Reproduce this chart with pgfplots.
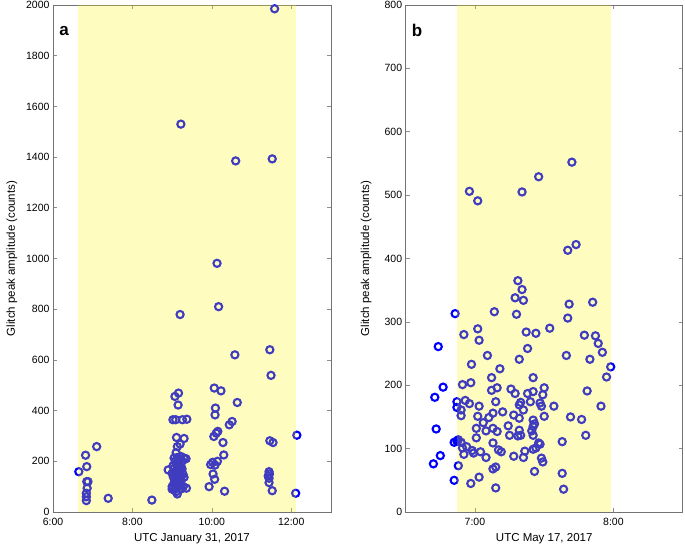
\documentclass[border=0pt]{standalone}
\usepackage{fontspec}
\setmainfont{Liberation Sans}
\usepackage{pgfplots}
\pgfplotsset{compat=1.18}
\pgfplotstableread{
h v
6.65 159
6.82 224
6.85 179
6.85 120
6.88 120
6.86 94
6.84 74
6.84 60
6.84 45
7.10 258
7.39 54
8.49 47
8.90 166
9.07 456
9.16 469
9.15 422
9.02 364
9.09 364
9.26 364
9.37 366
9.11 294
9.30 290
9.13 258
9.20 268
9.10 234
9.05 213
9.13 215
9.22 219
9.30 213
9.35 210
9.08 200
9.17 203
9.25 200
9.10 190
9.18 185
9.05 172
9.13 175
9.22 180
9.02 182
9.15 160
9.25 170
9.00 153
9.09 155
9.20 166
9.03 138
9.13 133
9.12 145
9.07 146
9.20 141
9.22 135
9.27 150
9.30 137
9.08 125
9.18 125
9.05 115
9.13 113
9.18 110
9.22 120
9.00 100
9.09 100
9.16 105
9.28 100
9.24 92
9.36 94
9.05 87
9.10 80
9.00 90
9.13 71
9.22 1530
9.20 779
10.06 489
10.23 478
10.09 410
10.08 383
10.05 298
10.11 311
10.15 318
10.28 274
10.30 225
9.97 187
10.02 196
10.08 185
10.14 200
10.03 150
10.07 129
9.93 100
10.32 82
10.13 981
10.17 810
10.60 1385
10.58 620
10.64 432
10.44 344
10.51 357
11.58 1985
11.52 1393
11.46 640
11.49 539
11.46 281
11.54 274
11.44 159
11.45 150
11.42 142
11.44 133
11.44 116
11.52 84
12.14 303
12.11 74
}\dataA
\pgfplotstableread{
h v
6.857 313
6.96 506
7.02 491
7.34 505
7.46 529
7.70 552
7.67 413
7.73 422
7.31 365
7.34 351
7.29 338
7.35 334
7.14 316
7.30 312
7.68 328
7.67 306
7.85 331
6.92 280
7.02 289
7.03 271
7.37 284
7.44 282
7.54 290
7.79 279
7.87 278
6.735 261
6.77 197
6.71 181
6.72 131
6.75 89
6.70 76
6.85 110
6.85 50
7.98 229
7.09 247
6.975 233
6.91 201
6.97 204
6.87 174
6.87 165
6.90 161
6.90 152
6.93 176
6.96 171
7.03 167
7.02 151
7.01 132
7.01 117
6.88 114
6.90 110
6.87 112
6.91 101
6.94 103
6.92 91
6.98 97
6.99 93
7.04 95
7.08 86
6.88 73
6.97 45
7.03 55
7.15 38
7.13 68
7.15 71
7.08 128
7.06 141
7.10 149
7.13 156
7.20 158
7.15 174
7.12 192
7.16 196
7.12 212
7.18 226
7.13 132
7.16 127
7.13 109
7.17 98
7.19 95
7.24 136
7.25 121
7.26 194
7.29 187
7.28 153
7.28 88
7.32 241
7.32 169
7.33 173
7.35 161
7.32 148
7.31 120
7.33 121
7.32 129
7.35 86
7.36 96
7.38 258
7.38 187
7.40 174
7.42 212
7.42 190
7.41 128
7.42 121
7.42 145
7.43 139
7.42 135
7.42 99
7.44 101
7.43 64
7.46 109
7.47 107
7.47 172
7.48 167
7.49 185
7.50 196
7.50 151
7.48 85
7.49 79
7.57 167
7.63 111
7.63 61
7.64 36
7.66 247
7.69 150
7.77 146
7.80 121
7.81 191
7.83 241
7.89 266
7.92 252
7.95 213
7.91 167
}\dataB
\pgfplotsset{
  myax/.style={
    scale only axis,
    height=507pt,
    clip marker paths=true,
    axis line style={draw=black!55, line width=0.7pt},
    tick style={draw=black!45, line width=0.7pt},
    major tick length=4pt,
    tick align=inside,
    ticklabel style={font=\fontsize{10.5}{12}\selectfont},
    label style={font=\fontsize{11.5}{13}\selectfont},
    /pgf/number format/assume math mode=true,
    /pgf/number format/1000 sep={},
    scaled y ticks=false,
    xticklabel style={yshift=-3pt},
    xlabel style={at={(axis description cs:0.5,-0.052)}, anchor=center},
    ymin=0,
  },
  mk/.style={only marks, mark=o, mark size=3.6pt, mark options={draw=blue, line width=2.1pt}},
  band/.style={draw=none, fill=yellow, fill opacity=0.25, forget plot},
}
\begin{document}
\begin{tikzpicture}[x=1pt,y=1pt]
\useasboundingbox (0,0) rectangle (685,546);
\begin{axis}[myax, at={(53pt,34pt)}, anchor=south west, width=278pt,
  xmin=6, xmax=13, ymax=2000,
  xtick={6,8,10,12}, xticklabels={6:00,8:00,10:00,12:00},
  ytick={0,200,...,2000},
  xlabel={UTC January 31, 2017},
  ylabel={Glitch peak amplitude (counts)},
  ylabel style={at={(axis description cs:-0.1475,0.5)}, anchor=center},
]
\addplot[mk] table[x=h,y=v] {\dataA};
\addplot[band] coordinates {(6.63,0) (6.63,2000) (12.13,2000) (12.13,0)} -- cycle;
\node[font=\bfseries\fontsize{17}{17}\selectfont] at (axis description cs:0.04,0.949) {a};
\end{axis}
\begin{axis}[myax, at={(405.7pt,34pt)}, anchor=south west, width=277pt,
  xmin=6.5, xmax=8.5, ymax=800,
  xtick={7,8}, xticklabels={7:00,8:00},
  ytick={0,100,...,800},
  xlabel={UTC May 17, 2017},
  ylabel={Glitch peak amplitude (counts)},
  ylabel style={at={(axis description cs:-0.143,0.5)}, anchor=center},
]
\addplot[mk] table[x=h,y=v] {\dataB};
\addplot[band] coordinates {(6.87,0) (6.87,800) (7.98,800) (7.98,0)} -- cycle;
\node[font=\bfseries\fontsize{17}{17}\selectfont] at (axis description cs:0.041,0.949) {b};
\end{axis}
\end{tikzpicture}
\end{document}
